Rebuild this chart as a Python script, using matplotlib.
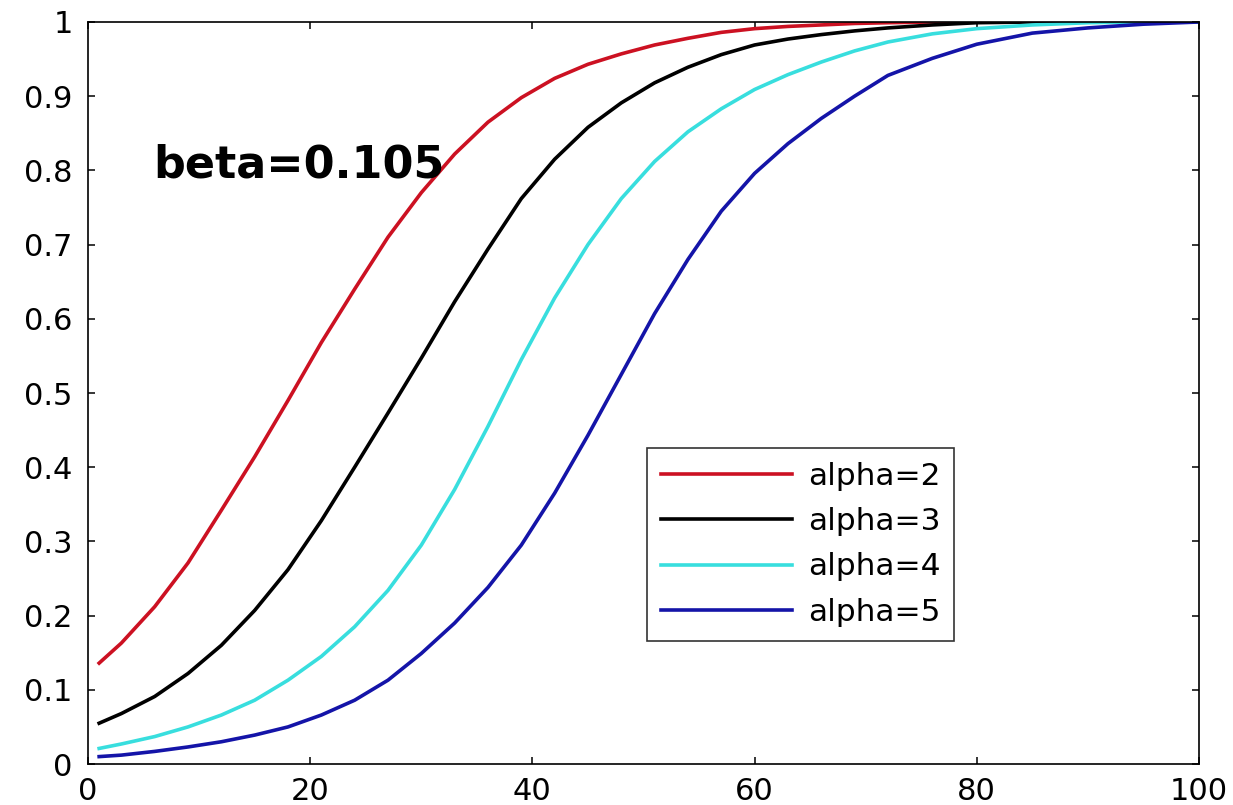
import numpy as np
import matplotlib.pyplot as plt

# values
x = [1, 3, 6, 9, 12, 15, 18, 21, 24, 27, 30, 33, 36, 39, 42, 45, 48, 51, 54,
     57, 60, 63, 66, 69, 72, 76, 80, 85, 90, 95, 100]
alpha2 = [0.136, 0.163, 0.212, 0.271, 0.342, 0.414, 0.490, 0.568, 0.640, 0.710,
          0.770, 0.822, 0.865, 0.898, 0.924, 0.943, 0.957, 0.969, 0.978, 0.986,
          0.991, 0.994, 0.996, 0.998, 0.999, 1.0, 1.0, 1.0, 1.0, 1.0, 1.0]
alpha3 = [0.055, 0.068, 0.091, 0.122, 0.160, 0.207, 0.262, 0.328, 0.400, 0.473,
          0.547, 0.623, 0.694, 0.762, 0.815, 0.858, 0.891, 0.918, 0.939, 0.956,
          0.969, 0.977, 0.983, 0.988, 0.992, 0.996, 0.999, 1.0, 1.0, 1.0, 1.0]
alpha4 = [0.021, 0.027, 0.037, 0.050, 0.066, 0.086, 0.113, 0.145, 0.185, 0.234,
          0.295, 0.370, 0.455, 0.545, 0.628, 0.700, 0.762, 0.812, 0.852, 0.883,
          0.909, 0.929, 0.946, 0.961, 0.973, 0.984, 0.991, 0.996, 0.999, 1.0, 1.0]
alpha5 = [0.010, 0.012, 0.017, 0.023, 0.030, 0.039, 0.050, 0.066, 0.086, 0.113,
          0.149, 0.190, 0.238, 0.295, 0.365, 0.443, 0.525, 0.607, 0.680, 0.745,
          0.796, 0.836, 0.870, 0.900, 0.928, 0.951, 0.970, 0.985, 0.992, 0.997, 1.0]
labels = ['alpha=2', 'alpha=3', 'alpha=4', 'alpha=5']
yticks = [0, 0.1, 0.2, 0.3, 0.4, 0.5, 0.6, 0.7, 0.8, 0.9, 1]
yticklabels = ['0', '0.1', '0.2', '0.3', '0.4', '0.5', '0.6', '0.7', '0.8', '0.9', '1']
xticks = [0, 20, 40, 60, 80, 100]

plt.rcParams['font.family'] = ['DejaVu Sans']

fig = plt.figure(figsize=(12.33, 8.05), dpi=100)
ax = fig.add_axes([0.0714, 0.0509, 0.901, 0.9218])

colors = ['#cc1122', 'black', '#38dede', '#1414a8']
for ys, c, lab in zip([alpha2, alpha3, alpha4, alpha5], colors, labels):
    ax.plot(x, ys, color=c, linewidth=2.6, label=lab)

ax.set_xlim(0, 100)
ax.set_ylim(0, 1)
ax.set_xticks(xticks)
ax.set_xticklabels([str(t) for t in xticks])
ax.set_yticks(yticks)
ax.set_yticklabels(yticklabels)
ax.tick_params(direction='in', top=True, right=True, length=5, width=1.1,
               labelsize=22, colors='black')
ax.tick_params(axis='x', pad=9)
ax.tick_params(axis='y', pad=11)
for s in ax.spines.values():
    s.set_linewidth(1.2)

ax.text(5.9, 0.79, 'beta=0.105', fontsize=32, fontweight='bold', va='baseline')

leg = ax.legend(loc='upper left', bbox_to_anchor=(0.503, 0.426), fontsize=22.5,
                frameon=True, fancybox=False, handlelength=4.2, handletextpad=0.5,
                labelspacing=0.52, borderpad=0.45, borderaxespad=0)
leg.get_frame().set_edgecolor('black')
leg.get_frame().set_linewidth(1.2)

plt.savefig('out.png', dpi=100)
